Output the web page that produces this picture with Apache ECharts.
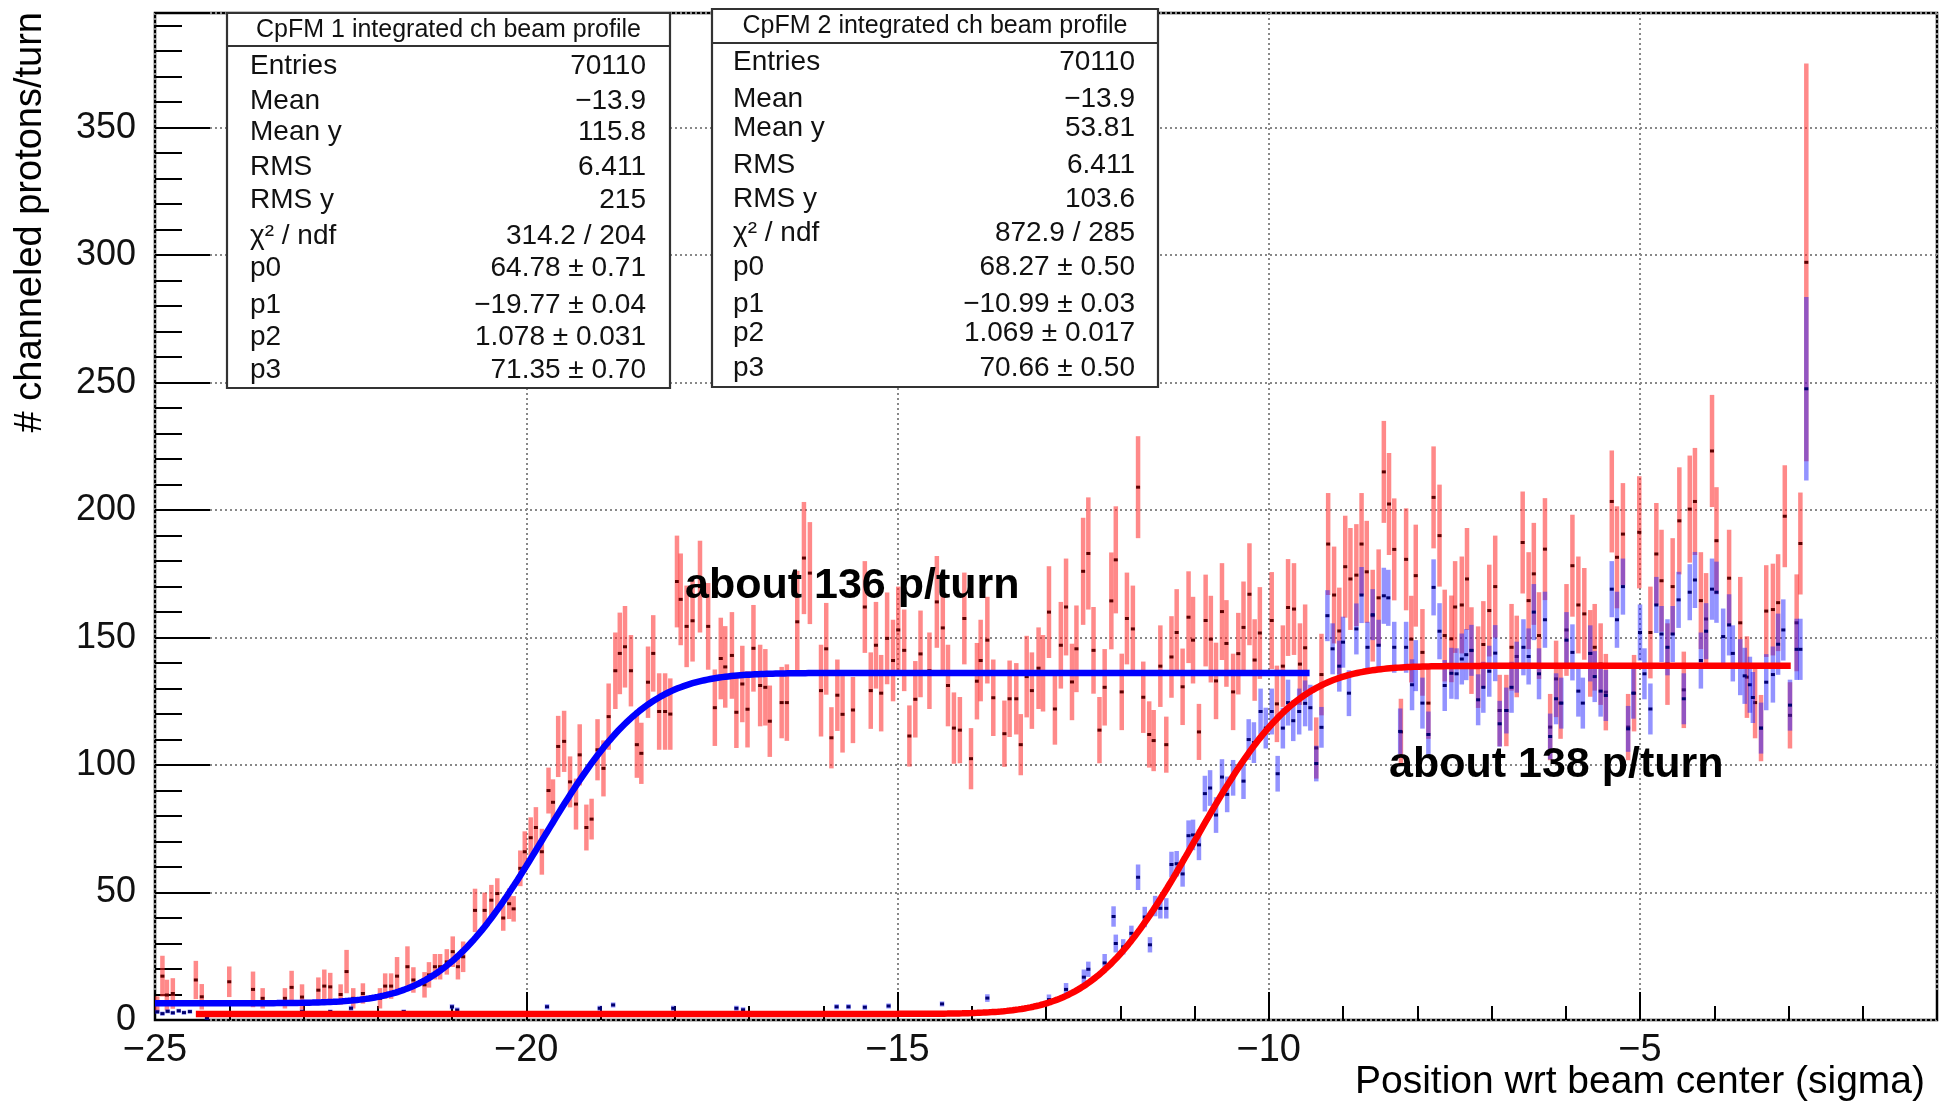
<!DOCTYPE html>
<html>
<head>
<meta charset="utf-8">
<title>CpFM integrated channeled beam profile</title>
<script src="https://cdn.jsdelivr.net/npm/echarts@6/dist/echarts.min.js"></script>
<style>
  html, body { margin: 0; padding: 0; background: #fff; }
  #chart { width: 1943px; height: 1110px; }
</style>
</head>
<body>
<div id="chart"></div>
<script>
// ---------------- data ----------------
// CpFM 1 profile (red points): bin position, mean, error
const redX = [
  -24.97,-24.90,-24.84,-24.76,-24.45,-24.37,-24.00,-23.68,-23.55,-23.25,-23.16,-23.02,-22.80,-22.72,-22.64,-22.50,
  -22.42,-22.33,-22.20,-21.97,-21.90,-21.82,-21.74,-21.60,-21.52,-21.37,-21.31,-21.23,-21.16,-21.07,-20.99,-20.92,
  -20.85,-20.69,-20.56,-20.47,-20.39,-20.31,-20.23,-20.17,-20.08,-20.02,-19.94,-19.87,-19.79,-19.70,-19.64,-19.57,
  -19.49,-19.41,-19.33,-19.28,-19.19,-19.12,-19.04,-18.96,-18.89,-18.80,-18.74,-18.67,-18.59,-18.51,-18.45,-18.36,
  -18.29,-18.21,-18.13,-18.06,-17.97,-17.92,-17.84,-17.76,-17.66,-17.55,-17.46,-17.38,-17.32,-17.23,-17.17,-17.09,
  -17.02,-16.94,-16.85,-16.78,-16.72,-16.56,-16.49,-16.35,-16.26,-16.18,-16.03,-15.96,-15.89,-15.81,-15.74,-15.60,
  -15.44,-15.36,-15.29,-15.22,-15.14,-15.06,-14.99,-14.91,-14.84,-14.76,-14.69,-14.57,-14.47,-14.39,-14.32,-14.24,
  -14.16,-14.10,-14.01,-13.93,-13.88,-13.79,-13.71,-13.56,-13.49,-13.40,-13.34,-13.26,-13.19,-13.10,-13.04,-12.96,
  -12.88,-12.80,-12.73,-12.65,-12.59,-12.50,-12.43,-12.36,-12.28,-12.21,-12.12,-12.06,-11.98,-11.91,-11.83,-11.76,
  -11.69,-11.61,-11.55,-11.46,-11.38,-11.31,-11.24,-11.16,-11.08,-11.02,-10.94,-10.85,-10.78,-10.71,-10.63,-10.57,
  -10.48,-10.41,-10.34,-10.26,-10.19,-10.12,-9.96,-9.89,-9.81,-9.74,-9.66,-9.58,-9.51,-9.36,-9.29,-9.20,
  -9.12,-9.05,-8.97,-8.90,-8.82,-8.75,-8.68,-8.60,-8.52,-8.45,-8.38,-8.31,-8.22,-8.15,-8.08,-8.02,
  -7.93,-7.85,-7.78,-7.70,-7.63,-7.54,-7.49,-7.40,-7.33,-7.27,-7.18,-7.11,-7.03,-6.95,-6.89,-6.80,
  -6.73,-6.66,-6.58,-6.50,-6.43,-6.36,-6.28,-6.21,-6.13,-6.07,-5.99,-5.91,-5.83,-5.75,-5.67,-5.61,
  -5.53,-5.46,-5.38,-5.31,-5.23,-5.16,-5.08,-5.01,-4.86,-4.78,-4.71,-4.63,-4.56,-4.47,-4.41,-4.33,
  -4.26,-4.18,-4.11,-4.03,-3.97,-3.80,-3.65,-3.56,-3.45,-3.37,-3.30,-3.21,-3.14,-3.05,-2.98,-2.89,
  -2.84,-2.76
];
const redY = [
  6.3,17.2,9.8,10.4,15.7,9.1,15.0,12.0,8.5,8.5,12.8,9.0,11.7,13.3,13.0,10.0,
  19.0,8.5,10.4,8.5,13.3,13.3,17.2,20.9,15.7,13.8,17.7,20.9,20.9,22.8,26.8,20.9,
  24.8,43.0,43.0,47.0,49.6,40.0,45.6,43.6,59.5,66.0,71.5,75.5,66.0,90.0,85.4,107.3,
  109.3,93.4,84.7,104.0,75.5,78.8,106.0,98.7,119.0,137.0,143.8,146.4,137.0,108.0,104.6,132.5,
  143.8,121.0,121.0,120.0,172.0,165.0,154.4,156.6,170.0,154.4,122.5,141.8,138.5,143.0,120.7,131.8,
  121.9,145.8,131.2,130.5,117.2,124.5,124.5,156.2,181.2,175.3,129.2,145.6,110.7,127.4,119.9,121.6,
  162.0,129.2,147.0,128.2,149.7,141.0,153.0,145.0,111.4,125.8,143.6,137.0,164.0,153.8,131.2,114.5,
  113.7,157.5,102.5,132.9,141.0,149.0,126.4,112.3,126.0,126.0,108.0,134.7,129.2,138.0,136.0,160.0,
  122.0,147.0,162.0,132.6,145.6,176.0,183.0,145.0,113.7,130.5,164.4,180.5,128.7,157.5,153.4,209.0,
  126.6,112.0,109.6,138.8,108.0,142.4,152.0,130.7,158.0,149.0,113.0,156.7,149.4,133.0,160.2,147.7,
  128.7,143.7,154.0,167.0,141.2,151.8,156.7,124.0,138.8,161.8,161.2,139.6,146.0,106.7,135.5,186.7,
  166.7,152.6,177.8,173.0,174.5,186.7,175.8,158.6,165.6,215.0,202.4,184.6,113.0,180.7,149.4,174.3,
  144.2,124.3,205.0,190.0,150.8,149.5,162.0,162.8,173.0,144.9,138.4,147.3,160.6,170.0,121.4,121.4,
  146.2,142.6,187.3,164.5,175.0,150.8,184.7,114.9,133.8,124.3,153.0,178.2,162.8,159.3,143.8,146.2,
  139.6,128.6,203.4,181.5,190.6,114.9,128.2,191.3,152.0,182.8,172.3,139.6,170.0,195.8,129.5,200.4,
  203.4,164.5,157.3,223.2,188.0,173.3,155.8,134.5,124.5,114.5,160.4,161.0,163.7,197.6,119.5,155.8,
  186.9,297.2
];
const redErr = [
  3,8,6,6,7.5,5,6,7,4,4,6.5,5,5,6.5,5.5,4,
  8.5,4,4,4,5,5,7.5,8,5,5,5,5,5,5,6,5,
  6,8.5,7,6,6,5,6,5,7,8,8,8,9,9,9,12,
  12,10,10,12,9,8,12,11,13,15,16,16,14,13,12,14,
  15,15,15,14,18,18,16,16,18,17,15,16,16,17,14,15,
  15,17,16,15,14,14,15,20,22,20,18,18,12,14,15,13,
  18,15,17,15,18,16,17,16,12,15,17,15,18,17,16,14,
  13,18,12,15,16,17,15,13,15,14,12,16,15,16,15,18,
  14,17,19,15,17,21,22,17,13,15,19,21,15,18,17,20,
  14,13,12,16,11,16,17,15,18,17,11,18,17,15,19,17,
  15,16,18,20,16,18,19,15,16,19,18,16,17,12,16,20,
  19,17,20,20,20,20,20,18,19,20,20,20,13,20,17,20,
  17,14,20,20,18,17,18,19,20,17,16,17,18,20,14,14,
  17,16,20,19,20,17,20,13,15,14,18,20,19,18,17,17,
  16,15,20,20,20,13,15,22,18,20,20,16,19,21,15,21,
  21,19,18,22,21,19,18,16,14,13,18,18,19,20,13,19,
  20,78
];

// CpFM 2 profile (blue points): bin position, mean, error
const blueX = [
  -24.97,-24.90,-24.83,-24.76,-24.68,-24.61,-24.53,-24.30,-23.02,-22.64,-22.36,-21.65,-21.00,-20.93,-19.72,-19.01,
  -18.83,-18.02,-17.17,-17.08,-15.82,-15.66,-15.44,-15.12,-14.40,-13.79,-12.96,-12.73,-12.49,-12.43,-12.21,-12.09,
  -12.06,-11.96,-11.85,-11.76,-11.67,-11.60,-11.53,-11.46,-11.38,-11.31,-11.24,-11.16,-11.08,-11.02,-10.94,-10.86,
  -10.79,-10.71,-10.63,-10.56,-10.48,-10.34,-10.27,-10.20,-10.11,-10.04,-9.96,-9.88,-9.81,-9.74,-9.67,-9.59,
  -9.51,-9.44,-9.36,-9.29,-9.21,-9.14,-9.05,-9.00,-8.92,-8.82,-8.75,-8.67,-8.60,-8.52,-8.45,-8.39,
  -8.31,-8.23,-8.15,-8.07,-8.02,-7.93,-7.85,-7.78,-7.70,-7.63,-7.54,-7.47,-7.40,-7.34,-7.27,-7.18,
  -7.11,-7.03,-6.95,-6.89,-6.80,-6.73,-6.66,-6.57,-6.50,-6.43,-6.36,-6.28,-6.21,-6.13,-6.06,-5.99,
  -5.91,-5.83,-5.77,-5.67,-5.61,-5.53,-5.46,-5.38,-5.31,-5.23,-5.16,-5.09,-5.00,-4.94,-4.86,-4.78,
  -4.71,-4.63,-4.56,-4.48,-4.41,-4.33,-4.26,-4.18,-4.11,-4.03,-3.97,-3.88,-3.80,-3.75,-3.65,-3.59,
  -3.52,-3.48,-3.37,-3.30,-3.21,-3.14,-3.07,-2.98,-2.89,-2.84,-2.76
];
const blueY = [
  3.2,2.5,3.4,2.8,3.6,2.9,3.3,0.7,3.3,3.3,4.6,3.3,5.2,3.9,5.2,4.6,
  5.9,4.6,4.6,4.0,5.2,5.2,5.0,5.5,6.3,8.6,8.0,12.0,16.8,19.9,22.4,40.6,
  30.0,28.7,34.0,56.0,40.4,29.5,44.7,43.8,43.8,61.0,61.3,57.3,72.3,72.6,68.7,88.8,
  91.0,80.4,95.3,88.5,95.0,93.7,110.0,108.8,121.0,114.5,121.0,96.6,114.5,124.5,117.4,121.0,
  124.2,122.5,100.6,114.8,158.6,145.6,138.8,148.2,128.2,153.4,166.7,146.2,159.0,147.0,166.4,165.6,
  146.2,113.2,146.2,131.5,139.0,124.3,112.0,169.7,152.5,131.2,136.0,135.8,141.6,143.3,145.0,125.6,
  130.5,136.8,143.9,116.2,121.4,130.5,138.4,146.2,142.6,160.0,135.8,157.0,111.2,126.0,124.3,149.0,
  144.2,129.0,124.3,143.8,134.7,129.0,127.3,169.0,157.0,170.0,114.2,128.2,152.0,135.8,122.0,162.8,
  151.4,146.2,151.4,164.8,126.0,167.8,172.6,141.0,152.5,169.0,167.8,150.4,155.0,143.8,138.4,135.0,
  131.5,126.5,114.5,132.5,135.5,147.4,153.0,123.5,145.4,145.4,247.6
];
const blueErr = [
  0.8,0.8,0.8,0.8,0.8,0.8,0.8,0.8,0.8,0.8,1,0.8,1,1,1,1,
  1,1,1,1,1,1,1,1,1,1.5,2,2.5,3,3,3.5,4,
  3.5,3,3,5,4,3,4,4,4,5,5,5,6,6,6,7,
  7,7,7,7,7,7,8,8,9,8,9,7,8,9,8,9,
  9,9,7,8,10,10,10,10,9,10,11,10,10,10,11,11,
  10,9,10,10,10,10,9,11,11,10,10,10,10,10,10,10,
  10,10,11,9,9,10,10,11,11,11,10,11,9,10,10,11,
  11,10,10,11,10,10,10,11,11,11,9,10,11,10,10,11,
  11,11,11,11,10,11,11,11,11,12,12,11,12,11,11,11,
  11,10,10,11,11,12,12,10,12,12,36
];

// fitted error-function parameters (p0..p3) and fit ranges
const fitCpfm1 = [64.78, -19.77, 1.078, 71.35];
const fitCpfm2 = [68.27, -10.99, 1.069, 70.66];
const fitRange1 = [-25, -9.45];
const fitRange2 = [-24.45, -2.97];

// statistics boxes
const statLabels = ['Entries', 'Mean', 'Mean y', 'RMS', 'RMS y', 'χ² / ndf', 'p0', 'p1', 'p2', 'p3'];
const stats1 = ['70110', '\u221213.9', '115.8', '6.411', '215', '314.2 / 204',
  '64.78 \u00b1 0.71', '\u221219.77 \u00b1 0.04', '1.078 \u00b1 0.031', '71.35 \u00b1 0.70'];
const stats2 = ['70110', '\u221213.9', '53.81', '6.411', '103.6', '872.9 / 285',
  '68.27 \u00b1 0.50', '\u221210.99 \u00b1 0.03', '1.069 \u00b1 0.017', '70.66 \u00b1 0.50'];

// ---------------- helpers ----------------
function erf(x) {
  const s = x < 0 ? -1 : 1;
  const a = Math.abs(x);
  const t = 1 / (1 + 0.3275911 * a);
  const y = 1 - (((((1.061405429 * t - 1.453152027) * t) + 1.421413741) * t - 0.284496736) * t + 0.254829592) * t * Math.exp(-a * a);
  return s * y;
}
function fitCurve(p, range) {
  const pts = [];
  for (let x = range[0]; x <= range[1] + 1e-9; x += 0.04) {
    pts.push([x, p[0] * erf((x - p[1]) / (Math.SQRT2 * p[2])) + p[3]]);
  }
  const xe = range[1];
  pts.push([xe, p[0] * erf((xe - p[1]) / (Math.SQRT2 * p[2])) + p[3]]);
  return pts;
}
function zip3(a, b, c) { return a.map((v, i) => [v, b[i], c[i]]); }
function fmtTick(v) { return v < 0 ? '\u2212' + Math.abs(v) : String(v); }

function errorBarRenderer(barColor, dotColor) {
  return function (params, api) {
    const x = api.value(0), y = api.value(1), e = api.value(2);
    const top = api.coord([x, y + e]);
    const bot = api.coord([x, y - e]);
    const c = api.coord([x, y]);
    return {
      type: 'group',
      children: [
        { type: 'line', shape: { x1: top[0], y1: top[1], x2: bot[0], y2: bot[1] },
          style: { stroke: barColor, lineWidth: 4.5 } },
        { type: 'rect', shape: { x: c[0] - 2, y: c[1] - 1.5, width: 4, height: 3 }, style: { fill: dotColor } }
      ]
    };
  };
}

// ---------------- layout ----------------
const FONT = '"Liberation Sans", Arial, Helvetica, sans-serif';
const gridLine = { show: true, lineStyle: { color: '#888', width: 2, type: [2, 3] } };

function statBox(x, y, w, h, sepY, title, titleY, labelX, valueX, rowsY, values) {
  const els = [
    { type: 'rect', shape: { x: x, y: y, width: w, height: h },
      style: { fill: '#fff', stroke: '#333', lineWidth: 2.2 }, z: 100 },
    { type: 'line', shape: { x1: x, y1: sepY, x2: x + w, y2: sepY },
      style: { stroke: '#333', lineWidth: 2.2 }, z: 101 },
    { type: 'text', x: x + w / 2, y: titleY, z: 101,
      style: { text: title, font: '25px ' + FONT, fill: '#111', align: 'center', verticalAlign: 'middle',
               textAlign: 'center', textVerticalAlign: 'middle' } }
  ];
  statLabels.forEach((lab, i) => {
    els.push({ type: 'text', x: labelX, y: rowsY[i], z: 101,
      style: { text: lab, font: '28px ' + FONT, fill: '#111', align: 'left', verticalAlign: 'middle',
               textAlign: 'left', textVerticalAlign: 'middle' } });
    els.push({ type: 'text', x: valueX, y: rowsY[i], z: 101,
      style: { text: values[i], font: '28px ' + FONT, fill: '#111', align: 'right', verticalAlign: 'middle',
               textAlign: 'right', textVerticalAlign: 'middle' } });
  });
  return els;
}

function plainText(text, x, y, font, align, rotation) {
  return { type: 'text', x: x, y: y, rotation: rotation || 0, z: 102,
    style: { text: text, font: font, fill: '#000', align: align, verticalAlign: 'middle',
             textAlign: align, textVerticalAlign: 'middle' } };
}

const chart = echarts.init(document.getElementById('chart'), null, { renderer: 'canvas' });

const option = {
  animation: false,
  backgroundColor: '#fff',
  grid: { left: 155, right: 6, top: 13, bottom: 90, show: true, borderColor: '#000', borderWidth: 2.5,
          backgroundColor: 'transparent' },
  xAxis: [
    { type: 'value', min: -25, max: -1, interval: 5,
      axisLine: { show: false },
      axisTick: { show: true, inside: true, length: 28, lineStyle: { color: '#000', width: 2 } },
      axisLabel: { fontSize: 38, color: '#111', fontFamily: FONT, margin: 12,
                   formatter: v => (Math.abs(v % 5) < 1e-9 ? fmtTick(v) : '') },
      splitLine: gridLine },
    { type: 'value', min: -25, max: -1, interval: 1, position: 'bottom',
      axisLine: { show: false },
      axisTick: { show: true, inside: true, length: 14, lineStyle: { color: '#000', width: 2 } },
      axisLabel: { show: false }, splitLine: { show: false } }
  ],
  yAxis: [
    { type: 'value', min: 0, max: 395, interval: 50,
      axisLine: { show: false },
      axisTick: { show: true, inside: true, length: 55, lineStyle: { color: '#000', width: 2 } },
      axisLabel: { fontSize: 36, color: '#111', fontFamily: FONT, margin: 19,
                   formatter: v => (Math.abs(v % 50) < 1e-9 ? fmtTick(v) : '') },
      splitLine: gridLine },
    { type: 'value', min: 0, max: 395, interval: 10, position: 'left',
      axisLine: { show: false },
      axisTick: { show: true, inside: true, length: 27, lineStyle: { color: '#000', width: 2 } },
      axisLabel: { show: false }, splitLine: { show: false } }
  ],
  series: [
    { name: 'CpFM 1', type: 'custom', xAxisIndex: 0, yAxisIndex: 0, clip: true, z: 2,
      renderItem: errorBarRenderer('rgba(255,40,40,0.55)', '#5a0000'),
      data: zip3(redX, redY, redErr) },
    { name: 'CpFM 2', type: 'custom', xAxisIndex: 0, yAxisIndex: 0, clip: true, z: 3,
      renderItem: errorBarRenderer('rgba(30,30,255,0.48)', '#00006e'),
      data: zip3(blueX, blueY, blueErr) },
    { name: 'fit CpFM 1', type: 'line', xAxisIndex: 0, yAxisIndex: 0, z: 5, showSymbol: false,
      lineStyle: { color: '#0000ff', width: 6.5 }, data: fitCurve(fitCpfm1, fitRange1) },
    { name: 'fit CpFM 2', type: 'line', xAxisIndex: 0, yAxisIndex: 0, z: 6, showSymbol: false,
      lineStyle: { color: '#ff0000', width: 6.5 }, data: fitCurve(fitCpfm2, fitRange2) }
  ],
  graphic: [].concat(
    statBox(227, 13, 443, 375, 46, 'CpFM 1 integrated ch beam profile', 30, 250, 646,
            [66, 101, 132, 167, 200, 236, 268, 305, 337, 370], stats1),
    statBox(712, 9, 446, 378, 43, 'CpFM 2 integrated ch beam profile', 26, 733, 1135,
            [62, 99, 128, 165, 199, 233, 267, 304, 333, 368], stats2),
    [
      plainText('about 136 p/turn', 685, 586, 'bold 43px ' + FONT, 'left'),
      plainText('about 138 p/turn', 1389, 765, 'bold 43px ' + FONT, 'left'),
      plainText('Position wrt beam center (sigma)', 1925, 1082, '39px ' + FONT, 'right'),
      plainText('# channeled protons/turn', 31, 12, '38px ' + FONT, 'right', Math.PI / 2)
    ]
  )
};

chart.setOption(option);
</script>
</body>
</html>
